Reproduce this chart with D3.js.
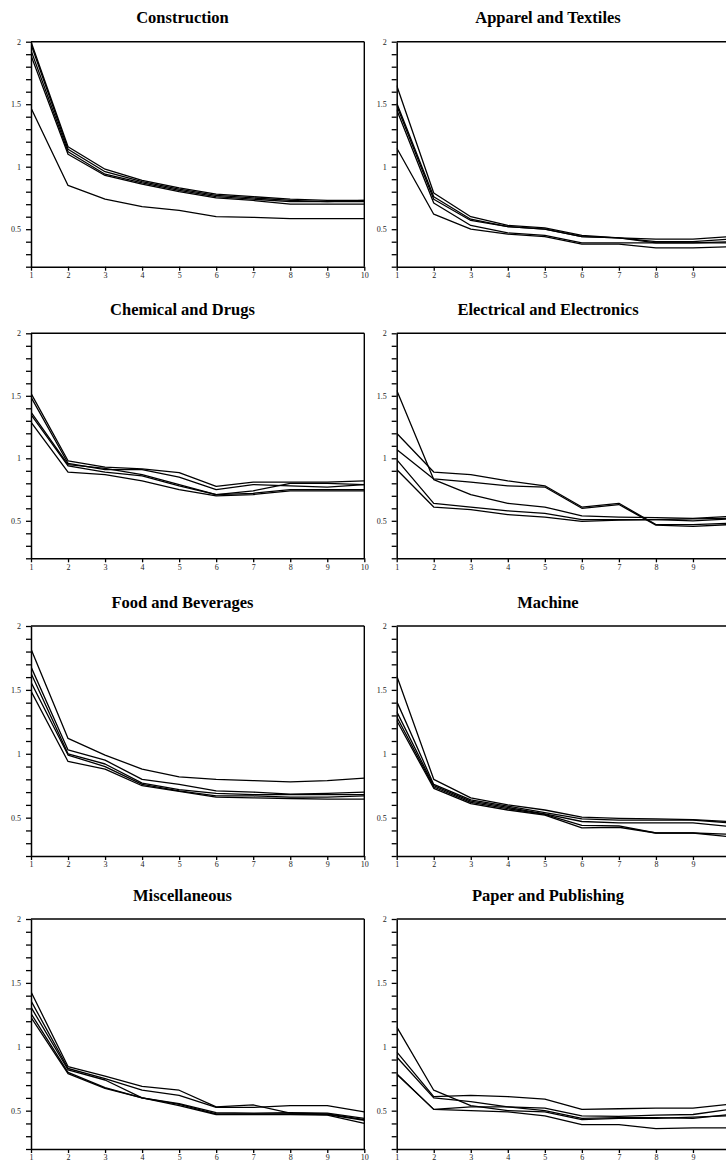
<!DOCTYPE html>
<html>
<head>
<meta charset="utf-8">
<script src="https://cdn.jsdelivr.net/npm/d3@7"></script>
<style>
  html, body { margin: 0; padding: 0; background: #fff; }
  svg { display: block; }
</style>
</head>
<body>
<svg id="chart" width="726" height="1165"></svg>
<script>
// ---- data ----
const panelTitles = ["Construction", "Apparel and Textiles", "Chemical and Drugs", "Electrical and Electronics",
                     "Food and Beverages", "Machine", "Miscellaneous", "Paper and Publishing"];
const periods = [1, 2, 3, 4, 5, 6, 7, 8, 9, 10];
const yTickValues = [0.2, 0.3, 0.4, 0.5, 0.6, 0.7, 0.8, 0.9, 1.0, 1.1, 1.2, 1.3, 1.4, 1.5, 1.6, 1.7, 1.8, 1.9, 2.0];
const yTickLabels = [0.5, 1, 1.5, 2];

const construction = [
  [2.00, 1.16, 0.98, 0.89, 0.83, 0.78, 0.76, 0.74, 0.73, 0.73],
  [1.98, 1.14, 0.96, 0.88, 0.82, 0.77, 0.75, 0.73, 0.72, 0.73],
  [1.93, 1.12, 0.94, 0.87, 0.81, 0.76, 0.74, 0.72, 0.72, 0.72],
  [1.89, 1.10, 0.93, 0.86, 0.80, 0.75, 0.73, 0.70, 0.70, 0.70],
  [1.47, 0.85, 0.74, 0.68, 0.65, 0.60, 0.595, 0.585, 0.585, 0.585]
];
const apparel = [
  [1.65, 0.79, 0.60, 0.53, 0.51, 0.45, 0.43, 0.42, 0.42, 0.44],
  [1.51, 0.76, 0.58, 0.52, 0.50, 0.44, 0.43, 0.40, 0.40, 0.42],
  [1.49, 0.74, 0.57, 0.52, 0.50, 0.44, 0.43, 0.39, 0.39, 0.40],
  [1.455, 0.71, 0.53, 0.47, 0.45, 0.39, 0.39, 0.39, 0.39, 0.39],
  [1.15, 0.62, 0.50, 0.46, 0.44, 0.38, 0.38, 0.35, 0.35, 0.36]
];
const chemical = [
  [1.52, 0.98, 0.93, 0.915, 0.885, 0.775, 0.81, 0.81, 0.81, 0.82],
  [1.49, 0.96, 0.91, 0.91, 0.85, 0.75, 0.79, 0.78, 0.77, 0.79],
  [1.37, 0.95, 0.92, 0.87, 0.79, 0.71, 0.74, 0.80, 0.80, 0.79],
  [1.35, 0.94, 0.89, 0.86, 0.78, 0.71, 0.72, 0.75, 0.75, 0.75],
  [1.29, 0.89, 0.87, 0.82, 0.75, 0.70, 0.71, 0.74, 0.74, 0.74]
];
const electrical = [
  [1.545, 0.83, 0.71, 0.64, 0.61, 0.54, 0.53, 0.525, 0.52, 0.535],
  [1.20, 0.89, 0.87, 0.82, 0.78, 0.61, 0.64, 0.47, 0.47, 0.48],
  [1.07, 0.835, 0.81, 0.78, 0.77, 0.60, 0.63, 0.465, 0.455, 0.47],
  [0.99, 0.64, 0.61, 0.58, 0.56, 0.51, 0.51, 0.51, 0.50, 0.515],
  [0.91, 0.61, 0.59, 0.55, 0.53, 0.495, 0.505, 0.51, 0.515, 0.52]
];
const food = [
  [1.82, 1.12, 0.99, 0.88, 0.82, 0.80, 0.79, 0.78, 0.79, 0.81],
  [1.68, 1.03, 0.95, 0.80, 0.76, 0.71, 0.70, 0.685, 0.69, 0.70],
  [1.63, 1.00, 0.92, 0.77, 0.72, 0.69, 0.68, 0.68, 0.68, 0.68],
  [1.56, 0.99, 0.90, 0.76, 0.71, 0.67, 0.67, 0.66, 0.66, 0.67],
  [1.49, 0.94, 0.88, 0.75, 0.705, 0.66, 0.655, 0.65, 0.645, 0.645]
];
const machine = [
  [1.61, 0.80, 0.655, 0.60, 0.56, 0.505, 0.495, 0.49, 0.485, 0.47],
  [1.41, 0.76, 0.64, 0.59, 0.54, 0.49, 0.48, 0.48, 0.48, 0.46],
  [1.33, 0.75, 0.63, 0.58, 0.53, 0.47, 0.46, 0.46, 0.46, 0.43],
  [1.29, 0.74, 0.62, 0.57, 0.525, 0.44, 0.435, 0.38, 0.38, 0.37],
  [1.26, 0.73, 0.61, 0.56, 0.52, 0.42, 0.425, 0.38, 0.38, 0.35]
];
const miscellaneous = [
  [1.43, 0.845, 0.77, 0.69, 0.66, 0.53, 0.545, 0.48, 0.475, 0.43],
  [1.36, 0.83, 0.75, 0.66, 0.62, 0.525, 0.525, 0.54, 0.54, 0.49],
  [1.31, 0.82, 0.74, 0.60, 0.555, 0.485, 0.48, 0.485, 0.48, 0.44],
  [1.26, 0.80, 0.68, 0.60, 0.55, 0.475, 0.475, 0.475, 0.47, 0.425],
  [1.23, 0.79, 0.675, 0.60, 0.54, 0.47, 0.47, 0.47, 0.465, 0.40]
];
const paper = [
  [1.156, 0.66, 0.54, 0.50, 0.49, 0.43, 0.44, 0.44, 0.45, 0.46],
  [0.96, 0.61, 0.62, 0.61, 0.59, 0.51, 0.515, 0.52, 0.52, 0.55],
  [0.92, 0.60, 0.57, 0.53, 0.52, 0.46, 0.455, 0.465, 0.47, 0.51],
  [0.79, 0.51, 0.53, 0.53, 0.50, 0.44, 0.445, 0.445, 0.44, 0.47],
  [0.785, 0.51, 0.50, 0.49, 0.46, 0.39, 0.39, 0.36, 0.365, 0.365]
];
const panelSeries = [construction, apparel, chemical, electrical, food, machine, miscellaneous, paper];

// ---- layout ----
const colLeft = [31, 396.7];
const plotW = 333.3;
const rowTop = [41.7, 333.3, 626, 919];
const rowH = [225, 225, 230, 230];
const colCenter = [182.5, 548];

const svg = d3.select("#chart");
const font = "'Liberation Serif', 'Times New Roman', serif";

panelTitles.forEach((title, i) => {
  const col = i % 2, row = Math.floor(i / 2);
  const x0 = colLeft[col], y0 = rowTop[row], h = rowH[row];
  const x = d3.scaleLinear().domain([1, 10]).range([0, plotW]);
  const y = d3.scaleLinear().domain([0.2, 2]).range([h, 0]);

  svg.append("text")
    .attr("x", colCenter[col]).attr("y", y0 - 18.5)
    .attr("text-anchor", "middle")
    .attr("font-family", font).attr("font-weight", "bold").attr("font-size", 16.5)
    .attr("fill", "#000")
    .text(title);

  const g = svg.append("g").attr("transform", `translate(${x0},${y0})`);

  const clipId = "clip" + i;
  g.append("clipPath").attr("id", clipId)
    .append("rect").attr("x", 0).attr("y", -1).attr("width", plotW).attr("height", h + 1);

  // frame top & right
  g.append("line").attr("x1", 0).attr("x2", plotW).attr("y1", 0).attr("y2", 0)
    .attr("stroke", "#000").attr("stroke-width", 1.4);
  g.append("line").attr("x1", plotW).attr("x2", plotW).attr("y1", 0).attr("y2", h)
    .attr("stroke", "#000").attr("stroke-width", 1.4);

  const yAxis = d3.axisLeft(y).tickValues(yTickValues).tickSize(5).tickSizeOuter(0)
    .tickFormat(v => yTickLabels.some(t => Math.abs(t - v) < 1e-6) ? String(+v.toFixed(1)) : "");
  const ya = g.append("g").call(yAxis);
  ya.select(".domain").attr("stroke-width", 1.5);
  ya.selectAll(".tick line").attr("stroke-width", 1.3);
  ya.selectAll(".tick text").attr("font-family", font).attr("font-size", 8).attr("fill", "#222").attr("x", -10);

  const xAxis = d3.axisBottom(x).tickValues(periods).tickSize(4).tickSizeOuter(0).tickFormat(d3.format("d"));
  const xa = g.append("g").attr("transform", `translate(0,${h})`).call(xAxis);
  xa.select(".domain").attr("stroke-width", 1.5);
  xa.selectAll(".tick line").attr("stroke-width", 1.3);
  xa.selectAll(".tick text").attr("font-family", font).attr("font-size", 8).attr("fill", "#222").attr("dy", "0.55em");

  const line = d3.line().x((d, k) => x(periods[k])).y(d => y(d));
  g.append("g").attr("clip-path", `url(#${clipId})`)
    .selectAll("path").data(panelSeries[i]).join("path")
    .attr("d", line)
    .attr("fill", "none").attr("stroke", "#000").attr("stroke-width", 1.3)
    .attr("stroke-linejoin", "round");
});
</script>
</body>
</html>
